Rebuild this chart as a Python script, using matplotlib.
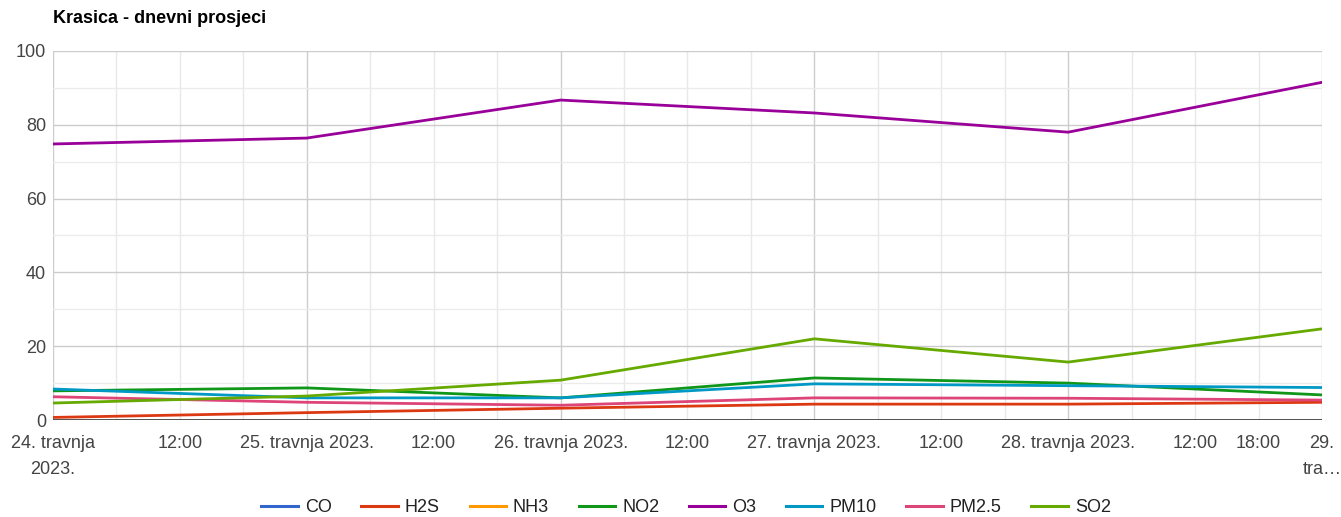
import numpy as np
import matplotlib.pyplot as plt
from matplotlib.lines import Line2D

plt.rcParams["font.family"] = ["Liberation Sans", "DejaVu Sans"]

# daily averages, 24.-29. travnja 2023. (x in days from the first date)
days = [0, 1, 2, 3, 4, 5]
pollutants = ["CO", "H2S", "NH3", "NO2", "O3", "PM10", "PM2.5", "SO2"]
co = [np.nan] * 6
h2s = [0.7, 2.0, 3.2, 4.3, 4.3, 4.8]
nh3 = [np.nan] * 6
no2 = [7.9, 8.7, 6.0, 11.4, 10.0, 6.8]
o3 = [74.8, 76.4, 86.7, 83.2, 78.0, 91.5]
pm10 = [8.4, 6.0, 6.0, 9.8, 9.3, 8.8]
pm25 = [6.3, 4.8, 4.0, 6.0, 5.9, 5.4]
so2 = [4.6, 6.5, 10.8, 22.0, 15.7, 24.7]
series = [co, h2s, nh3, no2, o3, pm10, pm25, so2]
colors = ["#3366cc", "#dc3912", "#ff9900", "#109618",
          "#990099", "#0099c6", "#dd4477", "#66aa00"]

tick_pos = [0, 0.5, 1, 1.5, 2, 2.5, 3, 3.5, 4, 4.5, 4.75, 5]
tick_labels = ["24. travnja\n2023.", "12:00", "25. travnja 2023.", "12:00",
               "26. travnja 2023.", "12:00", "27. travnja 2023.", "12:00",
               "28. travnja 2023.", "12:00", "18:00", "29.\ntra…"]

fig = plt.figure(figsize=(13.41, 5.17), dpi=100)
ax = fig.add_axes([0.0395, 0.1876, 0.9463, 0.7138])

# grid: 6h minor lines, darker day lines; y minor every 10
for x in np.arange(0, 5.01, 0.25):
    c = "#cccccc" if abs(x - round(x)) < 1e-9 else "#e8e8e8"
    ax.axvline(x, color=c, lw=1, zorder=0)
for y in range(10, 101, 10):
    c = "#cccccc" if y % 20 == 0 else "#ebebeb"
    ax.axhline(y, color=c, lw=1, zorder=0)

for vals, col in zip(series, colors):
    ax.plot(days, vals, color=col, lw=2.0, solid_joinstyle="round", zorder=3)

ax.axhline(0, color="#333333", lw=1.2, zorder=4)

ax.set_xlim(0, 5)
ax.set_ylim(0, 100)
ax.set_yticks(range(0, 101, 20))
ax.set_xticks(tick_pos)
ax.set_xticklabels(tick_labels, linespacing=1.7)
ax.tick_params(length=0, labelsize=13, labelcolor="#444444")
ax.tick_params(axis="x", pad=11)
ax.tick_params(axis="y", pad=5)
for s in ax.spines.values():
    s.set_visible(False)

fig.text(0.0395, 0.955, "Krasica - dnevni prosjeci", fontsize=13,
         fontweight="bold", color="#000000")

handles = [Line2D([], [], color=c, lw=2.2) for c in colors]
fig.legend(handles, pollutants, loc="center", bbox_to_anchor=(0.5116, 0.018),
           ncol=8, frameon=False, fontsize=13, handlelength=2.0,
           handletextpad=0.4, columnspacing=1.65, labelcolor="#222222")

fig.savefig("out.png", dpi=100, facecolor="white")
